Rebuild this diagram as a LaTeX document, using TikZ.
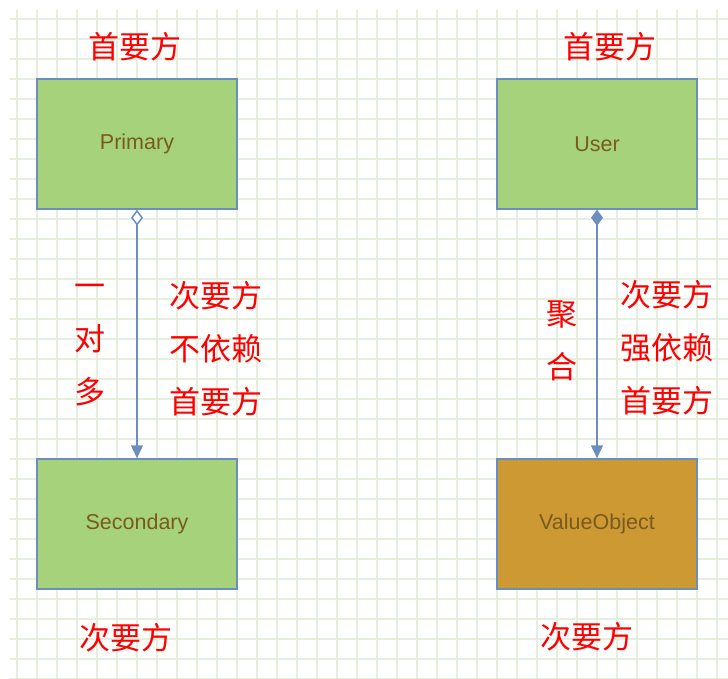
\documentclass[tikz,border=0pt]{standalone}
\usepackage{fontspec}
\setmainfont{Liberation Sans}
\newfontfamily\cjk{Noto Sans CJK SC}
\usetikzlibrary{arrows.meta}

\definecolor{gridgreen}{HTML}{E6EEDC}
\definecolor{boxgreen}{HTML}{A5D27A}
\definecolor{boxbrown}{HTML}{CC9933}
\definecolor{boxedge}{HTML}{6C8EBF}
\definecolor{boxtext}{HTML}{7A5A1E}

\tikzset{
  gridline/.style={draw=gridgreen, line width=1.2pt},
  entity/.style={rectangle, draw=boxedge, line width=1.5pt, minimum width=200pt,
    minimum height=130pt, text=boxtext, font=\fontsize{21.5}{26}\selectfont},
  role/.style={text=red, font=\cjk\fontsize{31}{53}\selectfont, align=center, inner sep=0pt},
  link/.style={draw=boxedge, line width=1.5pt}
}

\begin{document}
\begin{tikzpicture}[x=1pt, y=-1pt]
    \useasboundingbox[fill=white] (0,0) rectangle (728,679);

    % Grid paper
    \foreach \x in {17,37,...,717}
        \draw[gridline] (\x,10) -- (\x,679);
    \foreach \y in {19,39,...,679}
        \draw[gridline] (10,\y) -- (728,\y);

    % Draw nodes
    \node[entity, fill=boxgreen] (primary) at (137,144) {Primary};
    \node[entity, fill=boxgreen] (secondary) at (137,524) {Secondary};
    \node[entity, fill=boxgreen] (user) at (597,144) {User};
    \node[entity, fill=boxbrown] (value) at (597,524) {ValueObject};

    % Draw connections
    \draw[link, {Diamond[open, fill=white, length=16pt, width=12pt]}-{Triangle[length=13pt, width=12pt]}]
        (primary.south) -- (secondary.north);
    \draw[link, {Diamond[length=16pt, width=12pt]}-{Triangle[length=13pt, width=12pt]}]
        (user.south) -- (value.north);

    % Labels
    \node[role] (primaryTop) at (135,47) {首要方};
    \node[role] (secondaryBottom) at (126,638) {次要方};
    \node[role] (userTop) at (610,47) {首要方};
    \node[role] (valueBottom) at (587,637) {次要方};
    \node[role] (oneToMany) at (90,345) {一\\对\\多};
    \node[role] (weakDep) at (216,349) {次要方\\不依赖\\首要方};
    \node[role] (aggregate) at (562,341) {聚\\合};
    \node[role] (strongDep) at (667,348) {次要方\\强依赖\\首要方};
\end{tikzpicture}
\end{document}
